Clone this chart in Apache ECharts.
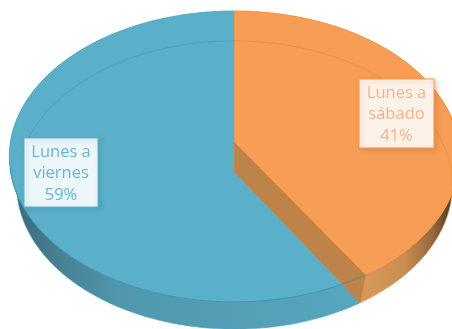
<!DOCTYPE html>
<html>
<head>
<meta charset="utf-8">
<style>html,body{margin:0;padding:0;background:#fff}#chart{width:452px;height:329px}</style>
<script src="https://cdn.jsdelivr.net/npm/echarts@6/dist/echarts.min.js"></script>
</head>
<body>
<div id="chart"></div>
<script>
// Clockwise from twelve o'clock
const categories = ['Lunes a sábado', 'Lunes a viernes'];
const shares = [41, 59];

const topDisc = { cx: 234.5, cy: 142, a: 224, b: 144, k: -0.0997 };
const baseDisc = { cx: 234.5, cy: 172, a: 217, b: 143, k: -0.09 };

// Perspective projection of a point on the disc's rim
function rim(d, deg) {
  const t = deg * Math.PI / 180;
  const u = Math.sin(t), v = -Math.cos(t), w = 1 + d.k * v;
  return [d.cx + d.a * u / w, d.cy + d.b * v / w];
}
function arc(d, from, to) {
  const pts = [];
  const n = Math.max(2, Math.ceil(Math.abs(to - from)));
  for (let i = 0; i <= n; i++) pts.push(rim(d, from + (to - from) * i / n));
  return pts;
}
const apex = d => [d.cx, d.cy];
const wallGradient = (x, x2, stops) => ({
  type: 'linear', x, y: 0, x2, y2: 0, global: true,
  colorStops: stops.map(([offset, color]) => ({ offset, color }))
});

const looks = [
  {
    top: '#F79D55', edge: '#EE9040', ghost: 'rgba(232,130,45,0.65)',
    ink: '#F8B384', paper: '#FDF2EA', frame: '#F39A50', shadow: 'rgba(190,110,50,0.4)',
    box: { x: 359, y: 79, w: 75, h: 69 },
    wall: wallGradient(358, 452, [[0, '#DA9A5C'], [0.5, '#C98C52'], [0.8, '#94673B'], [1, '#4F3822']])
  },
  {
    top: '#5AB0C9', edge: '#54A7C0', ghost: 'rgba(70,150,175,0.7)',
    ink: '#66B9D1', paper: '#EDF6F9', frame: '#5FB4CC', shadow: 'rgba(60,130,155,0.4)',
    box: { x: 24, y: 138, w: 74, h: 69 },
    wall: wallGradient(15, 360, [[0, '#3B6A7A'], [0.12, '#467F92'], [0.3, '#5097AD'], [1, '#56A7BF']])
  }
];

const total = shares.reduce((s, v) => s + v, 0);

function renderSlice(params, api) {
  const i = params.dataIndex;
  const value = api.value(0);
  const before = shares.slice(0, i).reduce((s, v) => s + v, 0);
  const start = before / total * 360;
  const end = (before + value) / total * 360;
  const look = looks[i];
  const orange = i === 0;
  const layer = orange ? 10 : 0;
  const children = [];

  const topArc = arc(topDisc, start, end);
  const baseArc = arc(baseDisc, start, end);

  // Outer wall, hidden at the back by the top face
  children.push({
    type: 'polygon', z2: layer + 1,
    shape: { points: baseArc.concat(topArc.slice().reverse()) },
    style: { fill: look.wall, stroke: look.edge, lineWidth: 0.6 }
  });
  // Top face
  children.push({
    type: 'polygon', z2: layer + 3,
    shape: { points: [apex(topDisc)].concat(topArc) },
    style: { fill: look.top, stroke: look.edge, lineWidth: 0.6 }
  });
  if (orange) {
    // Cut face of the wedge, lying in front of the neighbouring slice
    children.push({
      type: 'polygon', z2: layer + 2,
      shape: { points: [apex(topDisc), rim(topDisc, end), rim(baseDisc, end), apex(baseDisc)] },
      style: { fill: '#BD8348', stroke: '#D98238', lineWidth: 0.7 }
    });
  } else {
    // Front rim of the blue top, showing through the cut face
    children.push({
      type: 'polyline', z2: 20,
      shape: { points: arc(topDisc, start, start + 112) },
      style: { fill: 'none', stroke: '#3F8EA6', lineWidth: 0.8 }
    });
  }
  // Far rim of the base seen through the translucent top
  const ghostFrom = orange ? Math.max(start, 0) : 278;
  const ghostTo = orange ? 99 : 360;
  children.push({
    type: 'polyline', z2: 21,
    shape: { points: arc(baseDisc, ghostFrom, ghostTo) },
    style: { fill: 'none', stroke: look.ghost, lineWidth: 0.8 }
  });

  // Data label
  const b = look.box;
  children.push({
    type: 'rect', z2: 30,
    shape: { x: b.x, y: b.y, width: b.w, height: b.h },
    style: {
      fill: look.paper, stroke: look.frame, lineWidth: 1,
      shadowBlur: 5, shadowColor: look.shadow, shadowOffsetX: 2, shadowOffsetY: 2
    }
  });
  children.push({
    type: 'text', z2: 31,
    style: {
      x: b.x + b.w / 2, y: b.y + b.h / 2 + 1,
      text: categories[i].replace(' a ', ' a\n') + '\n' + value + '%',
      align: 'center', verticalAlign: 'middle',
      fill: look.ink, font: '16.5px "Open Sans"', lineHeight: 21.5
    }
  });
  return { type: 'group', children };
}

const chart = echarts.init(document.getElementById('chart'), null, { renderer: 'canvas' });
chart.setOption({
  backgroundColor: '#fff',
  animation: false,
  series: [{
    type: 'custom',
    coordinateSystem: 'none',
    silent: true,
    clip: false,
    renderItem: renderSlice,
    data: shares.map((v, i) => ({ name: categories[i], value: [v] }))
  }]
});
</script>
</body>
</html>
